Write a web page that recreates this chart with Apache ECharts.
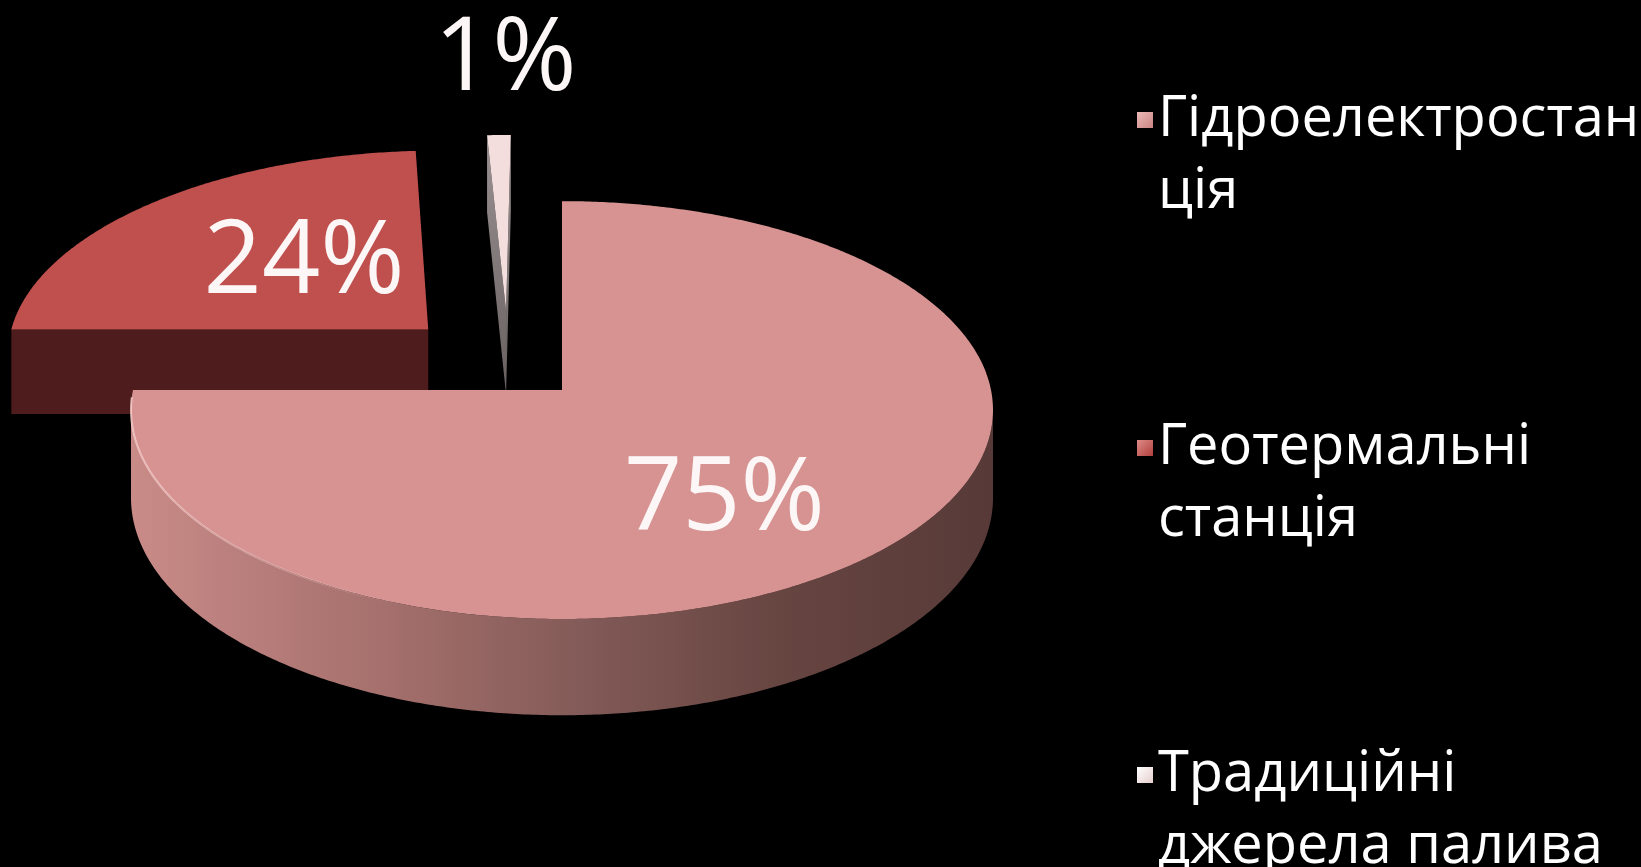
<!DOCTYPE html>
<html>
<head>
<meta charset="utf-8">
<title>Структура виробництва електроенергії</title>
<script src="https://cdn.jsdelivr.net/npm/echarts@6/dist/echarts.min.js"></script>
<style>
  html, body { margin: 0; padding: 0; background: #000; }
  #chart { width: 1641px; height: 867px; }
</style>
</head>
<body>
<div id="chart"></div>
<script>
// ---- data ----
const categories = ['Гідроелектростанція', 'Геотермальні станція', 'Традиційні джерела палива'];
const shares = [75, 24, 1];
const shareLabels = ['75%', '24%', '1%'];
const legendLines = ['Гідроелектростан\nція', 'Геотермальні\nстанція', 'Традиційні\nджерела палива'];

// ---- look of the tilted pie ----
// cx/cy: pie centre on screen, rx/ry: radii of the top face, persp: depth foreshortening,
// depth: thickness of the disc.
const view = { cx: 562, cy: 390, rx: 429, ry: 207, persp: 0.096, depth: 87 };

const looks = [
  {
    top: '#d69391',
    wall: [[0, '#c98b88'], [0.3, '#a46f6c'], [0.55, '#7f5855'], [0.75, '#674541'], [1, '#573a38']],
    cut: '#6a4341',
    explode: 0, turn: 0, labelR: 0.6, labelTurn: 8,
    legend: ['#ecb9b7', '#c98582']
  },
  {
    top: '#c0504d',
    wall: [[0, '#5a2322'], [1, '#461818']],
    cut: '#4e1c1c',
    explode: 0.44, turn: 0, labelR: 0.5, labelTurn: 7,
    legend: ['#de8a87', '#b0403d']
  },
  {
    top: '#f3dedd',
    wall: [[0, '#b9b1b1'], [1, '#8a8282']],
    cut: { type: 'linear', x: 0, y: 0, x2: 0, y2: 1,
           colorStops: [{ offset: 0, color: '#9a9292' }, { offset: 1, color: '#686060' }] },
    explode: 0.42, turn: -17, labelR: 1.53, labelTurn: 1,
    legend: ['#ffffff', '#e6cfce']
  }
];

const labelFont = { family: 'Open Sans', size: 102 };

// legend rows: vertical centre of each marker, and text line height
const legendRows = [120, 448, 775];
const legendLineHeight = 72;

// ---- geometry helpers ----
const rad = a => a * Math.PI / 180;
const camDist = 1 / view.persp;
const total = shares.reduce((s, v) => s + v, 0);
const starts = [];
shares.reduce((acc, v) => { starts.push(acc / total * 360); return acc + v; }, 0);

// project a point of the disc (u to the right, w to the back, h = 0 top / 1 bottom)
function project(u, w, h) {
  const d = 1 + view.persp * w;
  return [view.cx + view.rx * u / d, view.cy + (-view.ry * w + view.depth * h) / d];
}

function sliceGeom(i) {
  const a0 = starts[i];
  const a1 = a0 + shares[i] / total * 360;
  const mid = (a0 + a1) / 2;
  const dir = rad(mid + looks[i].turn);
  const c = [looks[i].explode * Math.sin(dir), looks[i].explode * Math.cos(dir)];
  return { a0, a1, mid, c };
}

function rimPoint(g, a, h) {
  return project(g.c[0] + Math.sin(rad(a)), g.c[1] + Math.cos(rad(a)), h);
}

function arcPoints(g, from, to, h) {
  const n = Math.max(2, Math.ceil(Math.abs(to - from) / 0.5));
  const pts = [];
  for (let k = 0; k <= n; k++) pts.push(rimPoint(g, from + (to - from) * k / n, h));
  return pts;
}

// a vertical face is visible when its outward normal points towards the viewer
function facesViewer(nAngle, px, pw) {
  const nx = Math.sin(rad(nAngle)), nw = Math.cos(rad(nAngle));
  return nx * (-px) + nw * (-camDist - pw) > 0;
}

function linearX(stops) {
  return { type: 'linear', x: 0, y: 0, x2: 1, y2: 0,
           colorStops: stops.map(s => ({ offset: s[0], color: s[1] })) };
}

function renderSlice(i) {
  const g = sliceGeom(i);
  const look = looks[i];
  const children = [];
  const apexTop = project(g.c[0], g.c[1], 0);
  const apexBot = project(g.c[0], g.c[1], 1);

  // radial cut faces
  [[g.a0, g.a0 - 90], [g.a1, g.a1 + 90]].forEach(([a, n]) => {
    if (shares[i] / total >= 1) return;
    if (!facesViewer(n, g.c[0], g.c[1])) return;
    children.push({
      type: 'polygon', z2: 1,
      shape: { points: [apexTop, rimPoint(g, a, 0), rimPoint(g, a, 1), apexBot] },
      style: { fill: look.cut }
    });
  });

  // outer wall, only where it turns towards the viewer
  const step = 0.5;
  let run = [];
  const runs = [];
  for (let a = g.a0; a <= g.a1 + 1e-9; a += step) {
    const px = g.c[0] + Math.sin(rad(a)), pw = g.c[1] + Math.cos(rad(a));
    if (facesViewer(a, px, pw)) run.push(a);
    else if (run.length) { runs.push(run); run = []; }
  }
  if (run.length) runs.push(run);
  runs.forEach(r => {
    if (r.length < 2) return;
    const from = r[0], to = r[r.length - 1];
    const topArc = arcPoints(g, from, to, 0);
    const botArc = arcPoints(g, from, to, 1).reverse();
    children.push({
      type: 'polygon', z2: 2,
      shape: { points: topArc.concat(botArc) },
      style: { fill: linearX(look.wall) }
    });
  });

  // top face
  children.push({
    type: 'polygon', z2: 3,
    shape: { points: [apexTop].concat(arcPoints(g, g.a0, g.a1, 0)) },
    style: { fill: look.top }
  });

  // soft light rim on the front-left edge of the largest slice
  if (i === 0) {
    children.push({
      type: 'polyline', z2: 4,
      shape: { points: arcPoints(g, 200, 268, 0) },
      style: {
        fill: null, lineWidth: 2,
        stroke: { type: 'linear', x: 0, y: 0, x2: 1, y2: 0,
                  colorStops: [{ offset: 0, color: 'rgba(250,210,208,0.8)' },
                               { offset: 1, color: 'rgba(250,210,208,0)' }] }
      }
    });
  }

  // value label
  const la = rad(g.mid + look.labelTurn);
  const lp = project(g.c[0] + look.labelR * Math.sin(la), g.c[1] + look.labelR * Math.cos(la), 0);
  children.push({
    type: 'text', z2: 10,
    style: {
      x: lp[0], y: lp[1] + labelFont.size * 0.07, text: shareLabels[i],
      fill: '#fdf6f6', align: 'center', verticalAlign: 'middle',
      font: 'normal ' + labelFont.size + 'px "' + labelFont.family + '"'
    }
  });

  return { type: 'group', children };
}

// draw the slices from back to front
const depthOrder = shares.map((v, i) => i).sort((a, b) => sliceGeom(b).c[1] - sliceGeom(a).c[1]);
const zOf = {};
depthOrder.forEach((idx, rank) => { zOf[idx] = 2 + rank; });

function legendColor(i) {
  return { type: 'linear', x: 0, y: 0, x2: 1, y2: 1,
           colorStops: [{ offset: 0, color: looks[i].legend[0] }, { offset: 1, color: looks[i].legend[1] }] };
}

// one legend block per category; a leading empty line keeps the marker level with the first text line
const legends = categories.map((name, i) => ({
  orient: 'vertical',
  left: 1137,
  top: legendRows[i] - 1.5 * legendLineHeight,
  padding: 0,
  itemWidth: 16,
  itemHeight: 16,
  icon: 'rect',
  selectedMode: false,
  data: [name],
  formatter: n => '\n' + legendLines[categories.indexOf(n)],
  textStyle: {
    color: '#ffffff',
    fontFamily: 'Open Sans',
    fontSize: 56,
    lineHeight: legendLineHeight
  }
}));

const chart = echarts.init(document.getElementById('chart'), null, { renderer: 'canvas' });
chart.setOption({
  backgroundColor: '#000',
  animation: false,
  legend: legends,
  series: categories.map((name, i) => ({
    type: 'custom',
    name: name,
    coordinateSystem: 'none',
    z: zOf[i],
    silent: true,
    itemStyle: { color: legendColor(i) },
    data: [shares[i]],
    renderItem: () => renderSlice(i)
  }))
});
</script>
</body>
</html>
